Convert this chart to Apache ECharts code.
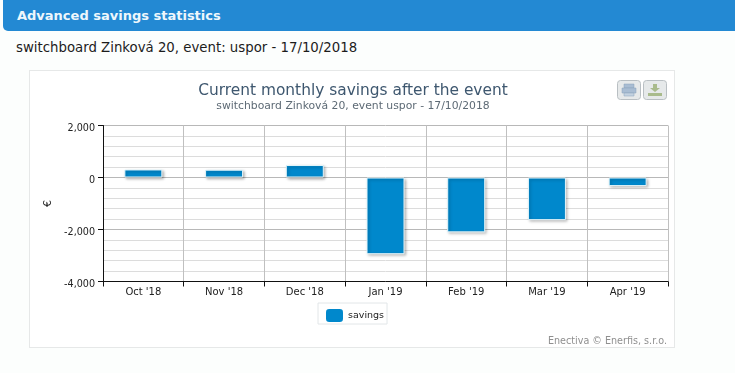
<!DOCTYPE html>
<html>
<head>
<meta charset="utf-8">
<title>Advanced savings statistics</title>
<script src="https://cdn.jsdelivr.net/npm/echarts@6/dist/echarts.min.js"></script>
<style>
html, body { margin: 0; padding: 0; background: #fcfefd; }
body { width: 735px; height: 373px; overflow: hidden; position: relative; font-family: "DejaVu Sans", sans-serif; }
#head { position: absolute; left: 3px; top: 0; width: 732px; height: 31px; background: #2389d3; border-radius: 0 0 0 5px;
    color: #eef7fc; font-weight: bold; font-size: 13px; line-height: 31px; text-indent: 14px; }
#sub { position: absolute; left: 16px; top: 39px; font-size: 13.3px; line-height: 18px; color: #1c1c1c; }
#card { position: absolute; left: 29px; top: 70px; width: 646px; height: 278px; border: 1px solid #e6e8e8; box-sizing: border-box; background: #fff; }
#chart { position: absolute; left: 0; top: 0; width: 735px; height: 373px; }
</style>
</head>
<body>
<div id="head">Advanced savings statistics</div>
<div id="sub">switchboard Zinková 20, event: uspor - 17/10/2018</div>
<div id="card"></div>
<div id="chart"></div>
<script>
var months = ["Oct '18", "Nov '18", "Dec '18", "Jan '19", "Feb '19", "Mar '19", "Apr '19"];
var savings = [310, 300, 480, -2950, -2110, -1640, -330];

var myChart = echarts.init(document.getElementById('chart'), null, {renderer: 'canvas'});
var font = '"DejaVu Sans", sans-serif';

// 指定图表的配置项和数据
var option = {
    backgroundColor: 'transparent',
    animation: false,
    textStyle: {fontFamily: font},
    title: {
        text: 'Current monthly savings after the event',
        subtext: 'switchboard Zinková 20, event uspor - 17/10/2018',
        left: 348,
        top: 77,
        textAlign: 'center',
        itemGap: 0,
        textStyle: {fontFamily: font, fontSize: 15.4, fontWeight: 'normal', color: '#3e576f', lineHeight: 18},
        subtextStyle: {fontFamily: font, fontSize: 10.8, color: '#5d6a75', lineHeight: 12}
    },
    legend: {
        data: ['savings'],
        left: 318,
        top: 303,
        padding: [6, 3, 2, 8],
        icon: 'roundRect',
        itemWidth: 17,
        itemHeight: 13,
        itemGap: 4,
        itemStyle: {borderWidth: 0, shadowBlur: 0, shadowOffsetX: 0, shadowOffsetY: 0},
        borderColor: '#e2e6e8',
        borderWidth: 1,
        textStyle: {fontFamily: font, fontSize: 9.5, color: '#222'}
    },
    grid: {left: 103, right: 67, top: 125.5, bottom: 91.5},
    xAxis: {
        type: 'category',
        data: months,
        boundaryGap: true,
        axisLine: {onZero: false, lineStyle: {color: '#111', width: 1}},
        axisTick: {show: true, length: 5, lineStyle: {color: '#111'}},
        axisLabel: {color: '#222', fontSize: 10, margin: 6, fontFamily: font},
        splitLine: {show: true, lineStyle: {color: '#c0c0c0', width: 1}}
    },
    yAxis: {
        type: 'value',
        min: -4000,
        max: 2000,
        interval: 2000,
        name: '€',
        nameLocation: 'middle',
        nameGap: 46,
        nameTextStyle: {color: '#222', fontSize: 11, fontFamily: font},
        axisLine: {show: true, lineStyle: {color: '#111', width: 1}},
        axisTick: {show: true, length: 5, lineStyle: {color: '#111'}},
        axisLabel: {
            color: '#222',
            fontSize: 9.6,
            margin: 8,
            verticalAlign: 'top',
            lineHeight: 6,
            fontFamily: font,
            formatter: function (v) { return echarts.format.addCommas(v); }
        },
        splitLine: {show: true, lineStyle: {color: '#b8b8b8', width: 1}},
        minorTick: {show: false, splitNumber: 5},
        minorSplitLine: {show: true, lineStyle: {color: '#dcdcdc', width: 1}}
    },
    series: [
        {
            name: 'savings',
            type: 'bar',
            data: savings,
            barWidth: 38,
            itemStyle: {
                color: '#0088cc',
                borderColor: '#e4f6fb',
                borderWidth: 1,
                shadowColor: 'rgba(0,0,0,0.3)',
                shadowBlur: 3,
                shadowOffsetX: 1.5,
                shadowOffsetY: 1.5
            }
        }
    ],
    graphic: [
        // print button
        {type: 'rect', shape: {x: 617.5, y: 80.5, width: 23, height: 19, r: 3},
            style: {fill: '#e6e9ea', stroke: '#b9bfc3', lineWidth: 1}},
        {type: 'rect', shape: {x: 624, y: 84, width: 10, height: 4}, style: {fill: '#a9bdd3', stroke: '#8aa0b8', lineWidth: 0.5}},
        {type: 'rect', shape: {x: 622, y: 88, width: 14, height: 5}, style: {fill: '#a9bdd3', stroke: '#8aa0b8', lineWidth: 0.5}},
        {type: 'rect', shape: {x: 624, y: 93, width: 10, height: 3}, style: {fill: '#c3d2e1', stroke: '#8aa0b8', lineWidth: 0.5}},
        // download button
        {type: 'rect', shape: {x: 643.5, y: 80.5, width: 23, height: 19, r: 3},
            style: {fill: '#e6e9ea', stroke: '#b9bfc3', lineWidth: 1}},
        {type: 'polygon', shape: {points: [[653, 84], [657, 84], [657, 88], [660, 88], [655, 92], [650, 88], [653, 88]]},
            style: {fill: '#a9bb8c'}},
        {type: 'rect', shape: {x: 648, y: 93, width: 14, height: 3}, style: {fill: '#a9bb8c'}},
        // credits
        {type: 'text', x: 667, y: 336,
            style: {text: 'Enectiva © Enerfis, s.r.o.', fill: '#8f8f8f', font: '9.6px ' + font, textAlign: 'right'}}
    ]
};

// 使用刚指定的配置项和数据显示图表。
myChart.setOption(option);
</script>
</body>
</html>
